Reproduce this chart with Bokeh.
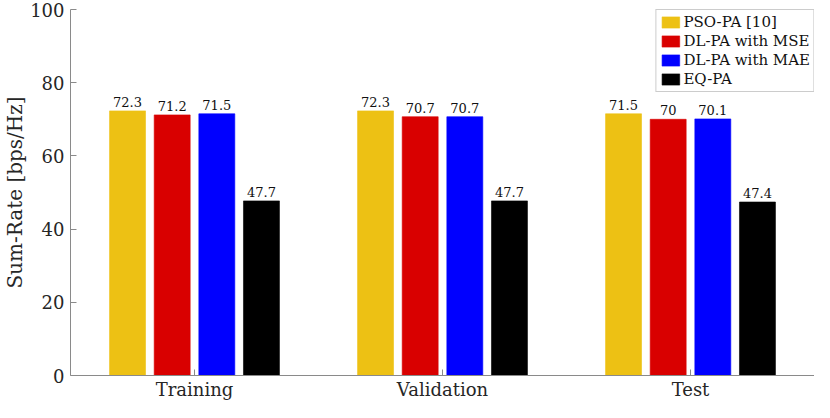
from bokeh.plotting import figure
from bokeh.models import ColumnDataSource, FactorRange, Legend
from bokeh.transform import dodge
from bokeh.core.properties import value
from bokeh.embed import file_html
from bokeh.resources import INLINE

categories = ["Training", "Validation", "Test"]
series_names = ["PSO-PA [10]", "DL-PA with MSE", "DL-PA with MAE", "EQ-PA"]
pso_pa = [72.3, 72.3, 71.5]
dl_mse = [71.2, 70.7, 70.0]
dl_mae = [71.5, 70.7, 70.1]
eq_pa = [47.7, 47.7, 47.4]
value_labels = [
    ["72.3", "72.3", "71.5"],
    ["71.2", "70.7", "70"],
    ["71.5", "70.7", "70.1"],
    ["47.7", "47.7", "47.4"],
]
y_ticks = [0, 20, 40, 60, 80, 100]
colors = ["#EDC114", "#D90000", "#0000FF", "#000000"]

FONT = "DejaVu Serif"
TXT = "#262626"
AX = "#8a8a8a"

p = figure(
    width=814, height=402,
    x_range=FactorRange(*categories, range_padding=0),
    y_range=(0, 100),
    output_backend="svg", toolbar_location=None,
    min_border_left=61, min_border_right=0, min_border_top=9, min_border_bottom=24,
)
p.outline_line_color = None
p.xgrid.grid_line_color = None
p.ygrid.grid_line_color = None

series = [pso_pa, dl_mse, dl_mae, eq_pa]
offsets = [-0.27, -0.09, 0.09, 0.27]
bar_w = 0.145
legend_items = []
for vals, lbls, name, col, off in zip(series, value_labels, series_names, colors, offsets):
    src = ColumnDataSource(dict(cat=categories, val=vals, lbl=lbls))
    r = p.vbar(x=dodge("cat", off, range=p.x_range), top="val", width=bar_w,
               source=src, fill_color=col, line_color=col, line_alpha=0.6)
    legend_items.append((name, [r]))
    p.text(x=dodge("cat", off, range=p.x_range), y="val", text="lbl", source=src,
           text_align="center", text_baseline="bottom", y_offset=-4,
           text_font=value(FONT), text_font_size="13px", text_color="#111111")

legend = Legend(items=legend_items, location="top_right")
legend.margin = 0
legend.padding = 3
legend.spacing = 1
legend.glyph_width = 22
legend.glyph_height = 14
legend.label_standoff = 2
legend.label_text_font = FONT
legend.label_text_font_size = "15px"
legend.label_text_color = "#111111"
legend.border_line_color = "#999999"
legend.border_line_width = 1
legend.background_fill_alpha = 1
p.add_layout(legend)

for ax in (p.xaxis, p.yaxis):
    ax.axis_line_color = AX
    ax.major_tick_line_color = AX
    ax.minor_tick_line_color = None
    ax.major_tick_in = 6
    ax.major_tick_out = 0
    ax.major_label_text_font = FONT
    ax.major_label_text_font_size = "18px"
    ax.major_label_text_color = TXT

p.xaxis.major_label_standoff = 3
p.yaxis.major_label_standoff = 6
p.yaxis.ticker = y_ticks
p.yaxis.axis_label = "Sum-Rate [bps/Hz]"
p.yaxis.axis_label_text_font = FONT
p.yaxis.axis_label_text_font_size = "20px"
p.yaxis.axis_label_text_font_style = "normal"
p.yaxis.axis_label_text_color = TXT
p.yaxis.axis_label_standoff = 0

open("out.html", "w").write(file_html(p, INLINE))
